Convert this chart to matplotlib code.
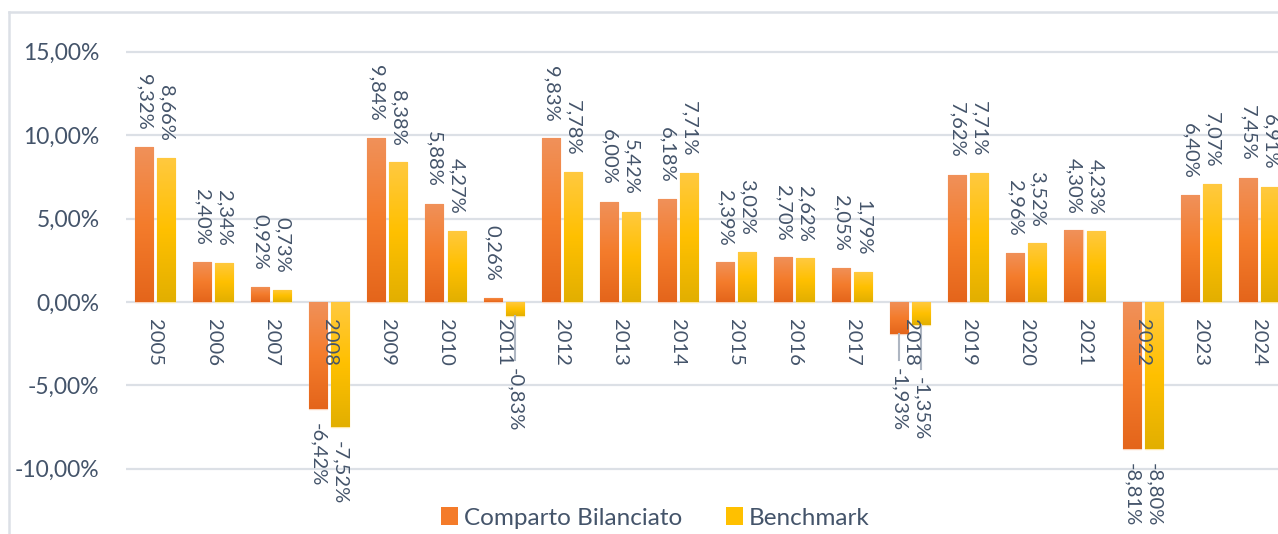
import matplotlib
matplotlib.use("Agg")
import matplotlib.pyplot as plt
import numpy as np
from matplotlib.patches import Rectangle
from matplotlib.lines import Line2D
from matplotlib.colors import LinearSegmentedColormap
from matplotlib.ticker import FixedLocator, FuncFormatter

years = [str(y) for y in range(2005, 2025)]
comparto = [9.32, 2.40, 0.92, -6.42, 9.84, 5.88, 0.26, 9.83, 6.00, 6.18,
            2.39, 2.70, 2.05, -1.93, 7.62, 2.96, 4.30, -8.81, 6.40, 7.45]
benchmark = [8.66, 2.34, 0.73, -7.52, 8.38, 4.27, -0.83, 7.78, 5.42, 7.71,
             3.02, 2.62, 1.79, -1.35, 7.71, 3.52, 4.23, -8.80, 7.07, 6.91]
series_names = ["Comparto Bilanciato", "Benchmark"]
yticks = [-10, -5, 0, 5, 10, 15]

# label placement for labels pulled away with a leader line (series index, year index) -> label top (in %)
leader_labels = {(1, 6): -3.95, (0, 13): -3.95, (1, 13): -4.5}

TEXT = "#44546A"
GRID = "#DCE0E6"
plt.rcParams["font.family"] = ["Lato", "DejaVu Sans"]

W, H = 1278, 534
fig = plt.figure(figsize=(W / 100, H / 100), dpi=100)
ax_left = 126 / W
ax_top_px = 20
ax = fig.add_axes([ax_left, 0, 1 - ax_left, 1 - ax_top_px / H])

px_per_unit = 16.68
zero_from_bottom = H - 302
ylo = -zero_from_bottom / px_per_unit
yhi = (H - ax_top_px - zero_from_bottom) / px_per_unit

x = np.arange(len(years))
width = 0.31
off = 0.19

grads = [
    LinearSegmentedColormap.from_list("o", ["#E4651B", "#F47C2C", "#F0915A"]),
    LinearSegmentedColormap.from_list("y", ["#E2AF00", "#FFC000", "#FFC940"]),
]
solid = ["#F47B2A", "#FFC000"]
edge = ["#FAD2B8", "#FFE7A6"]

grad_img = np.linspace(0, 1, 256).reshape(-1, 1)

for s, (vals, sign) in enumerate([(comparto, -1), (benchmark, 1)]):
    bars = ax.bar(x + sign * off, vals, width, color=solid[s], edgecolor=edge[s],
                  linewidth=1.0, zorder=2, label=series_names[s])
    for b in bars:
        x0, y0 = b.get_x(), b.get_y()
        w, h = b.get_width(), b.get_height()
        ylow, yup = min(y0, y0 + h), max(y0, y0 + h)
        im = ax.imshow(grad_img, extent=[x0, x0 + w, ylow, yup], origin="lower",
                       cmap=grads[s], aspect="auto", zorder=2.1, interpolation="bicubic")
        im.set_clip_path(b)
    # data labels
    for i, v in enumerate(vals):
        xc = x[i] + sign * off
        txt = f"{v:.2f}".replace(".", ",") + "%"
        if (s, i) in leader_labels:
            top = leader_labels[(s, i)]
            ax.plot([xc, xc], [v, top + 0.5], color="#AEB6C2", lw=1.5, zorder=3)
            ax.text(xc, top, txt, rotation=270, ha="center", va="top",
                    fontsize=14.5, color=TEXT, zorder=4)
        elif v >= 0:
            ax.annotate(txt, (xc, v), xytext=(0, 12), textcoords="offset points",
                        rotation=270, ha="center", va="bottom", fontsize=14.5,
                        color=TEXT, zorder=4)
        else:
            ax.annotate(txt, (xc, v), xytext=(0, -10), textcoords="offset points",
                        rotation=270, ha="center", va="top", fontsize=14.5,
                        color=TEXT, zorder=4)

# category labels along the zero line
for i, yr in enumerate(years):
    ax.annotate(yr, (x[i], 0), xytext=(0, -12), textcoords="offset points",
                rotation=270, ha="center", va="top", fontsize=14.5, color=TEXT, zorder=5)

ax.set_xlim(-0.499, 19.33)
ax.set_ylim(ylo, yhi)
ax.yaxis.set_major_locator(FixedLocator(yticks))
ax.yaxis.set_major_formatter(FuncFormatter(lambda v, p: f"{v:.2f}".replace(".", ",") + "%"))
ax.set_xticks([])
ax.tick_params(axis="y", length=0, pad=19, labelsize=16.5, labelcolor=TEXT)
ax.grid(axis="y", color=GRID, lw=1.6, zorder=0)
ax.set_axisbelow(True)
for sp in ax.spines.values():
    sp.set_visible(False)
ax.patch.set_alpha(0)

# chart area border
fig.add_artist(Line2D([9 / W, 9 / W], [0, 1 - 12 / H], color=GRID, lw=1.8))
fig.add_artist(Line2D([9 / W, 1], [1 - 12 / H, 1 - 12 / H], color=GRID, lw=1.8))

handles = [Rectangle((0, 0), 1, 1, facecolor=solid[0]), Rectangle((0, 0), 1, 1, facecolor=solid[1])]
fig.legend(handles, series_names, loc="center", bbox_to_anchor=(655 / W, 1 - 518 / H),
           ncol=2, frameon=False, fontsize=17.5, labelcolor=TEXT, handlelength=0.7,
           handleheight=0.7, handletextpad=0.25, columnspacing=1.8)

fig.savefig("out.png", dpi=100, facecolor="white")
